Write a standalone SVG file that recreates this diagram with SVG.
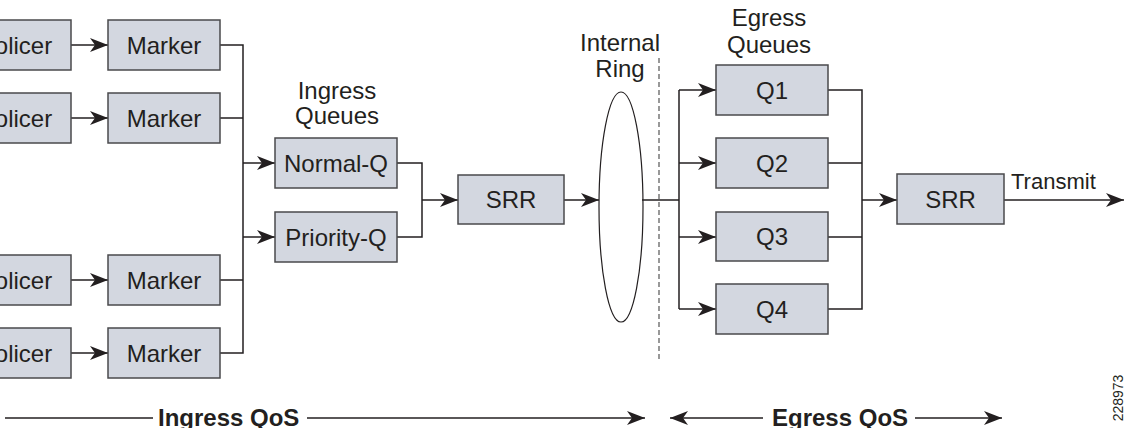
<svg xmlns="http://www.w3.org/2000/svg" width="1129" height="428" viewBox="0 0 1129 428">
<style>
.box{fill:#d3d7e0;stroke:#4a4a4c;stroke-width:1.5}
.t{font-family:"Liberation Sans",Arial,sans-serif;font-size:24px;fill:#231f20;text-anchor:middle}
.b{font-family:"Liberation Sans",Arial,sans-serif;font-size:24px;font-weight:bold;fill:#231f20}
.ln{fill:none;stroke:#231f20;stroke-width:1.5}
.ar{fill:none;stroke:#231f20;stroke-width:1.5;marker-end:url(#ah)}
</style>
<defs>
<marker id="ah" markerUnits="userSpaceOnUse" viewBox="0 0 18 14" refX="18" refY="7" markerWidth="18" markerHeight="14" orient="auto">
<path d="M0,0 L18,7 L0,14 L5,7 Z" fill="#231f20"/>
</marker>
</defs>
<rect width="1129" height="428" fill="#fff"/>

<g id="connectors">
<path class="ar" d="M71,45 H108"/>
<path class="ar" d="M71,118 H108"/>
<path class="ar" d="M71,280 H108"/>
<path class="ar" d="M71,353 H108"/>
<path class="ln" d="M220,45 H243 V353 H220 M220,118 H243 M220,280 H243"/>
<path class="ar" d="M243,163 H275"/>
<path class="ar" d="M243,237 H275"/>
<path class="ln" d="M397,163 H422 V237 H397"/>
<path class="ar" d="M422,200 H458"/>
<path class="ar" d="M564,200 H599"/>
<path class="ln" d="M642,200 H679 M679,90 V309"/>
<path class="ar" d="M679,90 H716"/>
<path class="ar" d="M679,163 H716"/>
<path class="ar" d="M679,237 H716"/>
<path class="ar" d="M679,309 H716"/>
<path class="ln" d="M828,90 H862 V309 H828 M828,163 H862 M828,237 H862"/>
<path class="ar" d="M862,200 H897"/>
<path class="ar" d="M1004,200 H1124"/>
<path d="M659,58 V362" fill="none" stroke="#555" stroke-width="1.2" stroke-dasharray="5,3"/>
<path class="ln" d="M5,418 H153"/>
<path class="ar" d="M307,418 H645"/>
<path class="ar" d="M763,418 H670"/>
<path class="ar" d="M915,418 H1002"/>
</g>

<g id="policer1"><rect class="box" x="-40" y="20" width="111" height="50"/><text class="t" x="15.5" y="53.5">Policer</text></g>
<g id="policer2"><rect class="box" x="-40" y="93" width="111" height="50"/><text class="t" x="15.5" y="126.5">Policer</text></g>
<g id="policer3"><rect class="box" x="-40" y="255" width="111" height="50"/><text class="t" x="15.5" y="288.5">Policer</text></g>
<g id="policer4"><rect class="box" x="-40" y="328" width="111" height="50"/><text class="t" x="15.5" y="361.5">Policer</text></g>

<g id="marker1"><rect class="box" x="108" y="20" width="112" height="50"/><text class="t" x="164" y="53.5">Marker</text></g>
<g id="marker2"><rect class="box" x="108" y="93" width="112" height="50"/><text class="t" x="164" y="126.5">Marker</text></g>
<g id="marker3"><rect class="box" x="108" y="255" width="112" height="50"/><text class="t" x="164" y="288.5">Marker</text></g>
<g id="marker4"><rect class="box" x="108" y="328" width="112" height="50"/><text class="t" x="164" y="361.5">Marker</text></g>

<g id="ingress-label"><text class="t" x="337" y="99">Ingress</text><text class="t" x="337" y="124">Queues</text></g>
<g id="normal-q"><rect class="box" x="275" y="138" width="122" height="50"/><text class="t" x="336" y="171.5">Normal-Q</text></g>
<g id="priority-q"><rect class="box" x="275" y="212" width="122" height="50"/><text class="t" x="336" y="245.5">Priority-Q</text></g>
<g id="srr1"><rect class="box" x="458" y="175" width="106" height="49"/><text class="t" x="511" y="208">SRR</text></g>

<g id="ring"><ellipse cx="621" cy="207" rx="22" ry="115" fill="none" stroke="#231f20" stroke-width="1.2"/><text class="t" x="620" y="51">Internal</text><text class="t" x="620" y="77">Ring</text></g>

<g id="egress-label"><text class="t" x="769" y="26">Egress</text><text class="t" x="769" y="53">Queues</text></g>
<g id="q1"><rect class="box" x="716" y="65" width="112" height="50"/><text class="t" x="772" y="98.5">Q1</text></g>
<g id="q2"><rect class="box" x="716" y="138" width="112" height="50"/><text class="t" x="772" y="171.5">Q2</text></g>
<g id="q3"><rect class="box" x="716" y="212" width="112" height="49"/><text class="t" x="772" y="245">Q3</text></g>
<g id="q4"><rect class="box" x="716" y="284" width="112" height="50"/><text class="t" x="772" y="317.5">Q4</text></g>
<g id="srr2"><rect class="box" x="897" y="174" width="107" height="50"/><text class="t" x="950.5" y="207.5">SRR</text></g>
<g id="transmit"><text class="t" x="1011" y="189" style="text-anchor:start;font-size:22px">Transmit</text></g>

<g id="qos-labels"><text class="b" x="158" y="426">Ingress QoS</text><text class="b" x="772" y="426">Egress QoS</text></g>
<g id="figure-id"><text class="t" transform="translate(1123,398) rotate(-90)" style="font-size:14px">228973</text></g>
</svg>
